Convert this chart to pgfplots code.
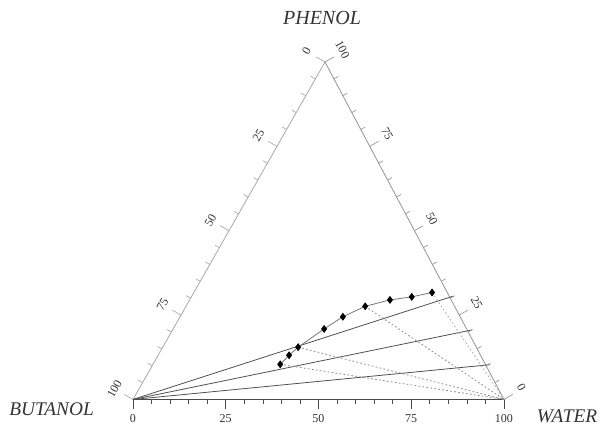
\documentclass[border=0pt]{standalone}
\usepackage{fontspec}
\setmainfont{Liberation Serif}
\usepackage{pgfplots}
\pgfplotsset{compat=1.18}
\usepackage{pgfplotstable}

% ternary -> cartesian: x = water + 0.5175*phenol, y = phenol (butanol = rest)
\pgfkeys{/pgfplots/table/tern/.style={x expr={\thisrow{water}+0.5175*\thisrow{phenol}}, y expr={\thisrow{phenol}}}}

\pgfplotstableread{
water phenol
34.3 10.4
35.3 13.1
36.5 15.5
40.7 20.9
43.9 24.5
48.3 27.6
54.0 29.5
59.4 30.4
64.2 31.7
}\curve

\definecolor{edgeL}{HTML}{A8A8A8}
\definecolor{edgeR}{HTML}{959595}
\definecolor{edgeB}{HTML}{4A4A4A}
\definecolor{tie}{HTML}{505050}
\definecolor{crv}{HTML}{787878}
\definecolor{dot}{HTML}{8A8A8A}
\definecolor{txt}{HTML}{333333}

\begin{document}
\begin{tikzpicture}
\useasboundingbox (-99.75pt,-26.6pt) rectangle (351pt,299.6pt);
\begin{axis}[
  at={(0,0)}, anchor=south west,
  scale only axis, width=278.25pt, height=253.1pt,
  xmin=0, xmax=100, ymin=0, ymax=100,
  axis lines=none, clip=false,
]
% triangle edges
\addplot[edgeB, line width=0.7pt] table[tern] {
water phenol
0 0
100 0
};
\addplot[edgeR, line width=0.6pt] table[tern] {
water phenol
100 0
0 100
};
\addplot[edgeL, line width=0.6pt] table[tern] {
water phenol
0 100
0 0
};
% tie lines
\addplot[tie, line width=0.6pt] table[tern] {
water phenol
0 0
70.4 30.6
};
\addplot[tie, line width=0.6pt] table[tern] {
water phenol
0 0
80.7 20.6
};
\addplot[tie, line width=0.6pt] table[tern] {
water phenol
0 0
90.9 10.3
};
% dotted lines to water corner
\addplot[dot, line width=0.6pt, dash pattern=on 1.3pt off 1.7pt] table[tern] {
water phenol
34.3 10.4
100 0
};
\addplot[dot, line width=0.6pt, dash pattern=on 1.3pt off 1.7pt] table[tern] {
water phenol
36.5 15.5
100 0
};
\addplot[dot, line width=0.6pt, dash pattern=on 1.3pt off 1.7pt] table[tern] {
water phenol
48.3 27.6
100 0
};
\addplot[dot!70!white, line width=0.6pt, dash pattern=on 1.3pt off 1.7pt] table[tern] {
water phenol
64.2 31.7
100 0
};
% solubility curve
\addplot[crv, line width=0.6pt, mark=diamond*, mark size=2.5pt,
  mark options={black, fill=black, solid}] table[tern] {\curve};

% ticks: bottom (water)
\pgfplotsinvokeforeach{0,25,50,75,100}{
  \draw[edgeB, line width=0.5pt] (axis cs:#1,0) -- ++(0,-7.5pt);
  \path (axis cs:#1,0) ++(0,-14.5pt) node[txt, inner sep=0pt, font=\fontsize{9}{10}\selectfont] {#1};
}
\pgfplotsinvokeforeach{5,10,15,20,30,35,40,45,55,60,65,70,80,85,90,95}{
  \draw[edgeB, line width=0.5pt] (axis cs:#1,0) -- ++(0,-3.75pt);
}
% ticks: left (butanol)
\pgfplotsinvokeforeach{0,25,50,75,100}{
  \draw[edgeL, line width=0.5pt] (axis cs:{0.5175*(100-#1)},{100-#1}) -- ++(150:7.5pt);
  \path (axis cs:{0.5175*(100-#1)},{100-#1}) ++(150:16pt) node[txt, inner sep=0pt, rotate=60, font=\fontsize{9}{10}\selectfont] {#1};
}
\pgfplotsinvokeforeach{5,10,15,20,30,35,40,45,55,60,65,70,80,85,90,95}{
  \draw[edgeL, line width=0.5pt] (axis cs:{0.5175*(100-#1)},{100-#1}) -- ++(150:3.75pt);
}
% ticks: right (phenol)
\pgfplotsinvokeforeach{0,25,50,75,100}{
  \draw[edgeR, line width=0.5pt] (axis cs:{100-0.4825*#1},#1) -- ++(30:7.5pt);
  \path (axis cs:{100-0.4825*#1},#1) ++(35:16pt) node[txt, inner sep=0pt, rotate=-62, font=\fontsize{9}{10}\selectfont] {#1};
}
\pgfplotsinvokeforeach{5,10,15,20,30,35,40,45,55,60,65,70,80,85,90,95}{
  \draw[edgeR, line width=0.5pt] (axis cs:{100-0.4825*#1},#1) -- ++(30:3.75pt);
}
\end{axis}
% corner labels
\node[txt, font=\fontsize{15}{17}\selectfont\itshape] at (141.75pt,286.1pt) {PHENOL};
\node[txt, font=\fontsize{14.5}{17}\selectfont\itshape] at (-61.1pt,-7.1pt) {BUTANOL};
\node[txt, font=\fontsize{14.5}{17}\selectfont\itshape] at (325.5pt,-12.4pt) {WATER};
\end{tikzpicture}
\end{document}
